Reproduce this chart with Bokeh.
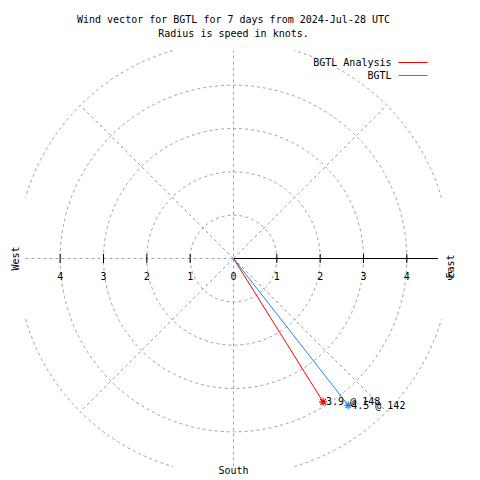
import numpy as np
from bokeh.plotting import figure
from bokeh.models import Range1d, Label
from bokeh.embed import file_html
from bokeh.resources import INLINE

# ---- data ----
title_lines = ["Wind vector for BGTL for 7 days from 2024-Jul-28 UTC",
               "Radius is speed in knots."]
ring_radii = [1, 2, 3, 4]
outer_ring = 5
spoke_bearings = [45, 135, 225, 315]
right_ticks = [1, 2, 3, 4, 5]
left_ticks = [1, 2, 3, 4]
series_names = ["BGTL Analysis", "BGTL"]
series_colors = ["#ff0000", "#1e88ee"]
speeds = [3.9, 4.3]
directions = [148, 142]
point_labels = ["3.9 @ 148", "4.5 @ 142"]
axis_limit = 4.8

FONT = "DejaVu Sans Mono"
FS = "10px"
GRID = "#a0a0a0"
K = 416 / (2 * axis_limit)  # pixels per knot
CX, CY = 233, 258           # page position of the origin
W = H = 480


def px(v):
    return v / K


p = figure(width=W, height=H, min_border=0,
           x_range=Range1d(-px(CX), px(W - CX)), y_range=Range1d(-px(H - CY), px(CY)),
           output_backend="svg", toolbar_location=None)
p.axis.visible = False
p.grid.visible = False
p.outline_line_color = None
p.background_fill_color = "white"
p.border_fill_color = "white"

# rings 1-4
p.circle(x=[0] * len(ring_radii), y=[0] * len(ring_radii), radius=ring_radii,
         fill_color=None, line_color=GRID, line_dash="3 3", line_width=1)
# outer ring, cut by the square plot box
a0 = np.arccos(axis_limit / outer_ring)
a1 = np.arcsin(axis_limit / outer_ring)
quad = np.array([0, 0.5, 1.0, 1.5]) * np.pi
p.arc(x=[0] * 4, y=[0] * 4, radius=outer_ring, start_angle=quad + a0, end_angle=quad + a1,
      line_color=GRID, line_dash="3 3", line_width=1)
# spokes
b = np.radians(spoke_bearings)
p.segment(x0=[0] * len(b), y0=[0] * len(b), x1=outer_ring * np.sin(b), y1=outer_ring * np.cos(b),
          line_color=GRID, line_dash="3 3", line_width=1)
# vertical & left dashed axis
p.segment(x0=[0, -axis_limit], y0=[-axis_limit, 0], x1=[0, 0], y1=[axis_limit, 0],
          line_color=GRID, line_dash="3 3", line_width=1)
# right solid axis
p.segment(x0=[0], y0=[0], x1=[axis_limit - 0.08], y1=[0], line_color="black", line_width=1)
# tick marks
tick_x = [-t for t in left_ticks] + right_ticks[:-1]
p.scatter(x=tick_x, y=[0] * len(tick_x), marker="dash", angle=np.pi / 2, size=9,
          line_color="black", line_width=1)

# vectors
for spd, d, col, lab in zip(speeds, directions, series_colors, point_labels):
    ex = spd * np.sin(np.radians(d))
    ey = spd * np.cos(np.radians(d))
    p.line(x=[0, ex], y=[0, ey], line_color=col, line_width=1)
    p.scatter(x=[ex], y=[ey], marker="asterisk", size=8, line_color=col, line_width=1.2)
    p.add_layout(Label(x=ex, y=ey, x_offset=3, text=lab, text_font=FONT, text_font_size=FS,
                       text_baseline="middle", text_align="left", text_color="black"))


def lbl(x, y, text, align="center", angle=0.0):
    p.add_layout(Label(x=x, y=y, text=text, text_font=FONT, text_font_size=FS,
                       text_align=align, text_baseline="middle", angle=angle,
                       text_color="black"))


# title
lbl(0, px(CY - 19), title_lines[0])
lbl(0, px(CY - 33), title_lines[1])

# tick labels
ty = -px(17)
lbl(0, ty, "0")
for t in left_ticks:
    lbl(-t, ty, str(t))
for t in right_ticks:
    lbl(t, ty, str(t))

# compass labels
lbl(-px(218), 0, "West", angle=np.pi / 2)
lbl(px(217), -px(8), "East", angle=np.pi / 2)
lbl(0, -px(212), "South")

# legend
for i, (name, col) in enumerate(zip(series_names, series_colors)):
    ly = px(CY - 62 - 13 * i)
    lbl(px(391 - CX), ly, name, align="right")
    p.segment(x0=[px(398 - CX)], y0=[ly], x1=[px(427 - CX)], y1=[ly],
              line_color=col, line_width=1)

open("out.html", "w").write(file_html(p, INLINE))
